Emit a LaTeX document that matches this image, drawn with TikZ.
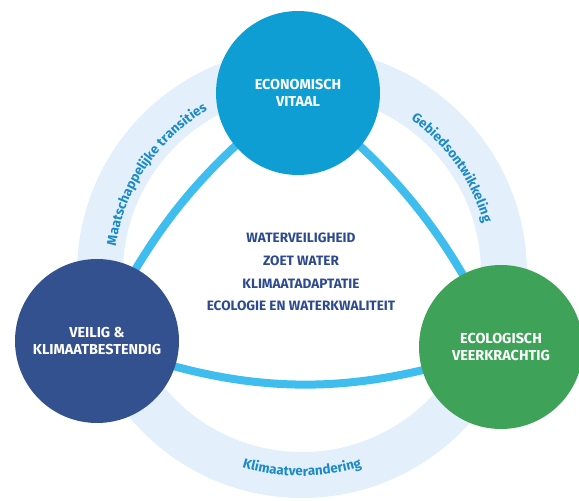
\documentclass[tikz,border=0pt]{standalone}
\usepackage{fontspec}
\setmainfont{Fira Sans}
\usepackage{tikz}
\usetikzlibrary{backgrounds, decorations.text}
\definecolor{dvblue}{RGB}{14, 158, 212}
\definecolor{dvnavy}{RGB}{51, 80, 143}
\definecolor{dvgreen}{RGB}{62, 163, 88}
\definecolor{dvcyan}{RGB}{62, 189, 238}
\definecolor{dvring}{RGB}{227, 240, 252}
\definecolor{dvtext}{RGB}{45, 74, 145}
\definecolor{dvlabel}{RGB}{27, 138, 199}

\tikzset{
  pillar/.style={circle, minimum size=8.2cm, inner sep=0pt, text=white, align=center,
    font=\bfseries\fontsize{20.5}{25}\selectfont},
  ringtext/.style={decorate, decoration={text along path, text align=center, text color=dvlabel,
    text={|\bfseries\fontsize{19}{22}\selectfont|#1}}}
}

\begin{document}
\begin{tikzpicture}[x=0.05cm, y=0.05cm]
\useasboundingbox (0,0) rectangle (579,500);
\coordinate (c) at (302,227);

% Pillars
\node[pillar, fill=dvblue] (econ) at (298,407) {ECONOMISCH\\VITAAL};
\node[pillar, fill=dvnavy] (veilig) at (97,159) {VEILIG \&\\KLIMAATBESTENDIG};
\node[pillar, fill=dvgreen] (ecol) at (501,153) {ECOLOGISCH\\VEERKRACHTIG};

% Themes
\node[text=dvtext, align=center, font=\bfseries\fontsize{19.3}{32.5}\selectfont] (themes) at (301,228)
  {WATERVEILIGHEID\\ZOET WATER\\KLIMAATADAPTATIE\\ECOLOGIE EN WATERKWALITEIT};

\begin{scope}[on background layer]
% Ring
\draw[dvring, line width=2.3cm] (c) circle[radius=202];
% Triangle
\draw[dvcyan, line width=0.4cm] (econ.center) to[bend right=13] (veilig.center)
  to[bend right=20] (ecol.center) to[bend right=13] (econ.center);
\end{scope}

% Ring labels
\path[ringtext=Maatschappelijke transities] ([shift={(180:188)}]c) arc[start angle=180, end angle=112, radius=188];
\path[ringtext=Gebiedsontwikkeling] ([shift={(70:188)}]c) arc[start angle=70, end angle=0, radius=188];
\path[ringtext=Klimaatverandering] ([shift={(240:203)}]c) arc[start angle=240, end angle=300, radius=203];
\end{tikzpicture}
\end{document}
